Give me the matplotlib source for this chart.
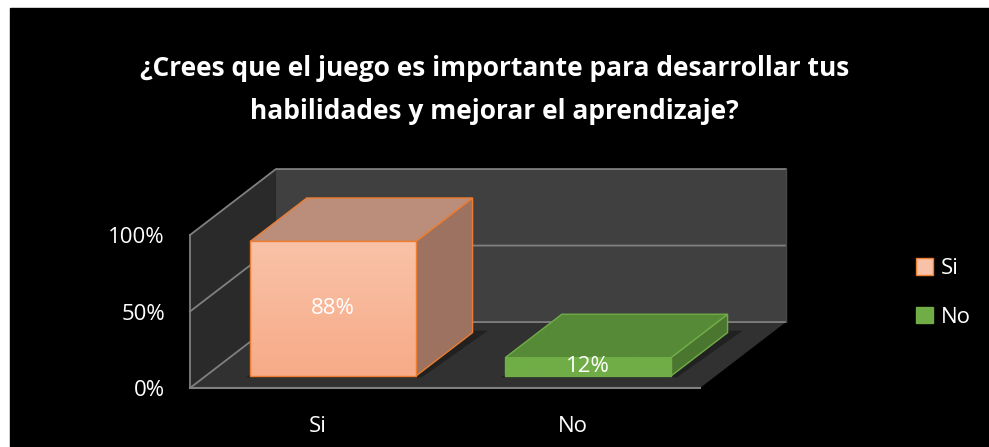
import matplotlib.pyplot as plt
from matplotlib.patches import Polygon, Rectangle, Patch
from matplotlib.colors import LinearSegmentedColormap
import numpy as np

# Data
categorias = ["Si", "No"]
valores = [88, 12]
etiquetas = ["88%", "12%"]
ticks_y = [0, 50, 100]
ticks_labels = ["0%", "50%", "100%"]
titulo = "¿Crees que el juego es importante para desarrollar tus\nhabilidades y mejorar el aprendizaje?"

# Styles
frente = ["#f7ab88", "#70ad47"]
frente_top = ["#f9c2a8", "#70ad47"]
arriba = ["#ba8e7b", "#578a37"]
lado = ["#9e7260", "#4b7630"]
borde = ["#ed7d31", "#70ad47"]

# 3D offset for full depth (x in category units, y in percent)
DX = 0.337
DY = 43.1
z0, z1 = 0.18, 0.84
ancho = 0.65


def p(x, y, z):
    return (x + z * DX, y + z * DY)


fig = plt.figure(figsize=(9.89, 4.47), dpi=100)
fig.patch.set_facecolor("white")
fig.patches.append(Rectangle((10 / 989, 0), 1, (447 - 8) / 447,
                             transform=fig.transFigure, color="black", zorder=-10))

ax = fig.add_axes([190 / 989, 59 / 447, 510 / 989, 153 / 447])
ax.set_xlim(-0.5, 1.5)
ax.set_ylim(0, 100)
ax.patch.set_alpha(0)
for s in ax.spines.values():
    s.set_visible(False)

gris = "#808080"
x0, x1 = -0.5, 1.5
# paredes y suelo
ax.add_patch(Polygon([p(x0, 0, 1), p(x1, 0, 1), p(x1, 100, 1), p(x0, 100, 1)],
                     closed=True, fc="#404040", ec="none", clip_on=False, zorder=1))
ax.add_patch(Polygon([p(x0, 0, 0), p(x0, 0, 1), p(x0, 100, 1), p(x0, 100, 0)],
                     closed=True, fc="#2a2a2a", ec="none", clip_on=False, zorder=1))
ax.add_patch(Polygon([p(x0, 0, 0), p(x1, 0, 0), p(x1, 0, 1), p(x0, 0, 1)],
                     closed=True, fc="#313131", ec="none", clip_on=False, zorder=1))
# lineas de cuadricula
for t in ticks_y:
    a, b, c = p(x0, t, 0), p(x0, t, 1), p(x1, t, 1)
    ax.plot([a[0], b[0], c[0]], [a[1], b[1], c[1]], color=gris, lw=1.3,
            clip_on=False, zorder=2)
a, b = p(x0, 0, 0), p(x0, 100, 0)
ax.plot([a[0], b[0]], [a[1], b[1]], color=gris, lw=1.3, clip_on=False, zorder=2)
a, b = p(x0, 0, 0), p(x1, 0, 0)
ax.plot([a[0], b[0]], [a[1], b[1]], color=gris, lw=1.5, clip_on=False, zorder=2)
a, b = p(x1, 0, 1), p(x1, 100, 1)
ax.plot([a[0], b[0]], [a[1], b[1]], color="#4a4a4a", lw=1, clip_on=False, zorder=2)

# barras
for i, v in enumerate(valores):
    l, r = i - ancho / 2, i + ancho / 2
    # sombra en el suelo
    ax.add_patch(Polygon([p(l - 0.01, 0, z0 - 0.02), p(r + 0.03, 0, z0 - 0.02),
                          p(r + 0.05, 0, z1 + 0.03), p(l + 0.02, 0, z1 + 0.03)],
                         closed=True, fc="#1e1e1e", ec="none", clip_on=False,
                         zorder=3, alpha=0.8))
    ax.add_patch(Polygon([p(r, 0, z0), p(r, 0, z1), p(r, v, z1), p(r, v, z0)],
                         closed=True, fc=lado[i], ec=borde[i], lw=1,
                         clip_on=False, zorder=4))
    ax.add_patch(Polygon([p(l, v, z0), p(r, v, z0), p(r, v, z1), p(l, v, z1)],
                         closed=True, fc=arriba[i], ec=borde[i], lw=1,
                         clip_on=False, zorder=4))
    # cara frontal con degradado
    fl, fb = p(l, 0, z0)
    fr, ft = p(r, v, z0)
    grad = np.linspace(0, 1, 64).reshape(-1, 1)
    cm = LinearSegmentedColormap.from_list("g", [frente[i], frente_top[i]])
    ax.imshow(grad, cmap=cm, extent=[fl, fr, fb, ft], origin="lower",
              aspect="auto", zorder=5, clip_on=False)
    ax.add_patch(Rectangle((fl, fb), fr - fl, ft - fb, fc="none", ec=borde[i],
                           lw=1, clip_on=False, zorder=6))
    ax.text((fl + fr) / 2, fb + max(v / 2, 5.5), etiquetas[i], color="white",
            fontsize=16, ha="center", va="center", zorder=7, family="Open Sans")

ax.set_xlim(-0.5, 1.5)
ax.set_ylim(0, 100)

ax.set_yticks(ticks_y)
ax.set_yticklabels(ticks_labels)
ax.set_xticks(range(len(categorias)))
ax.set_xticklabels(categorias)
ax.tick_params(length=0, colors="white", labelsize=16)
ax.tick_params(axis="y", pad=18)
ax.tick_params(axis="x", pad=20)
for lab in ax.get_xticklabels() + ax.get_yticklabels():
    lab.set_family("Open Sans")

# leyenda
handles = [Patch(fc=frente_top[0], ec=borde[0]), Patch(fc=frente[1], ec=borde[1])]
leg = fig.legend(handles, categorias, loc="center left",
                 bbox_to_anchor=(896 / 989, 1 - 293 / 447), frameon=False,
                 labelcolor="white", prop={"family": "Open Sans", "size": 16},
                 handlelength=0.75, handleheight=0.75, handletextpad=0.35,
                 labelspacing=1.25)

fig.text(0.5, 1 - 90 / 447, titulo, ha="center", va="center", color="white",
         fontsize=19, fontweight="bold", family="Open Sans", linespacing=1.75)

fig.savefig("out.png", dpi=100, facecolor=fig.get_facecolor())
